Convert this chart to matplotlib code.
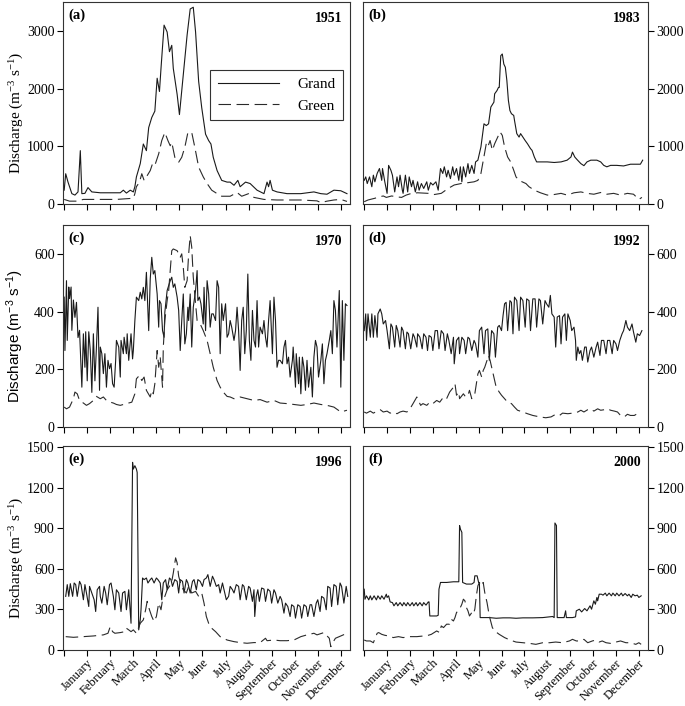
import numpy as np
import matplotlib
matplotlib.use("Agg")
import matplotlib.pyplot as plt

plt.rcParams['font.family'] = ['Liberation Serif', 'DejaVu Serif']
plt.rcParams['mathtext.default'] = 'regular'
plt.rcParams['lines.scale_dashes'] = False

months = ['January', 'February', 'March', 'April', 'May', 'June', 'July',
          'August', 'September', 'October', 'November', 'December']

# ---- 1951 (a)
grand_1951_day = [0, 2, 5, 10, 14, 18, 21, 23, 27, 31, 36, 47, 60, 73, 77, 81, 86, 90, 92, 94,
                  99, 103, 107, 110, 114, 118, 121, 124, 126, 130, 134, 137, 140, 142, 147, 150, 155, 160, 164, 168,
                  171, 175, 179, 184, 188, 191, 194, 199, 205, 212, 216, 221, 226, 229, 236, 242, 251, 260, 264, 266,
                  268, 271, 277, 290, 308, 325, 334, 342, 351, 360, 368]
grand_1951_q = [240, 525, 380, 180, 155, 210, 925, 180, 185, 285, 210, 195, 195, 195, 240, 190, 240, 210, 300, 470,
                700, 1040, 925, 1325, 1500, 1610, 2180, 1950, 2350, 3100, 2980, 2640, 2750, 2350, 1900, 1550, 2240, 2930, 3380, 3410,
                2980, 2125, 1670, 1210, 1100, 1040, 810, 580, 410, 380, 380, 325, 410, 300, 380, 355, 240, 180, 380, 300,
                410, 240, 210, 180, 180, 210, 180, 170, 240, 230, 180]
green_1951_day = [0, 7, 16, 25, 47, 68, 90, 92, 94, 98, 101, 104, 107, 112, 115, 118, 123, 127, 131, 135,
                  138, 140, 144, 149, 153, 157, 161, 166, 170, 175, 181, 186, 192, 199, 205, 216, 225, 231, 240, 247,
                  260, 277, 308, 329, 334, 342, 351, 360, 368]
green_1951_q = [80, 50, 50, 80, 80, 80, 100, 180, 300, 380, 525, 410, 470, 580, 700, 670, 870, 1100, 1240, 1100,
                1010, 1070, 810, 725, 810, 985, 1240, 1240, 985, 640, 470, 355, 240, 180, 135, 135, 200, 135, 180, 115,
                80, 70, 70, 55, 25, 50, 70, 80, 45]

# ---- 1983 (b)
grand_1983_day = [0, 2, 4, 7, 10, 12, 14, 17, 20, 23, 24, 27, 30, 32, 35, 37, 40, 43, 45, 47,
                  50, 51, 54, 57, 59, 62, 64, 67, 70, 72, 75, 78, 82, 84, 87, 90, 94, 97, 100, 103,
                  105, 108, 110, 113, 116, 118, 121, 124, 126, 128, 130, 133, 136, 138, 141, 144, 146, 149, 151, 153,
                  157, 160, 163, 166, 170, 171, 174, 176, 177, 179, 181, 183, 185, 187, 189, 191, 193, 196, 197, 200,
                  203, 205, 208, 211, 214, 218, 220, 223, 226, 231, 240, 249, 258, 266, 271, 273, 276, 279, 284, 288,
                  292, 297, 305, 310, 314, 318, 323, 331, 340, 349, 358, 362, 365]
grand_1983_q = [410, 470, 355, 470, 300, 500, 385, 530, 615, 410, 615, 385, 185, 670, 585, 500, 210, 470, 300, 500,
                240, 185, 500, 210, 470, 300, 410, 210, 385, 240, 355, 270, 385, 240, 370, 330, 385, 240, 615, 530,
                645, 470, 585, 440, 645, 500, 615, 410, 645, 385, 645, 470, 700, 530, 670, 530, 730, 760, 875, 990,
                1390, 1360, 1390, 1680, 1765, 1910, 1965, 2020, 2020, 2570, 2600, 2425, 2370, 2140, 1795, 1620, 1565, 1535, 1450, 1220,
                1160, 1220, 1160, 1100, 1045, 960, 930, 815, 730, 730, 730, 720, 730, 760, 815, 900, 815, 770, 700, 665,
                730, 760, 760, 730, 670, 645, 670, 670, 660, 690, 690, 690, 760]
green_1983_day = [0, 5, 14, 20, 25, 29, 36, 42, 49, 55, 62, 70, 84, 92, 101, 110, 118, 127, 136, 144,
                  149, 153, 160, 162, 165, 168, 171, 175, 178, 181, 184, 188, 192, 196, 199, 203, 207, 212, 216, 223,
                  231, 240, 249, 258, 266, 275, 284, 292, 301, 310, 318, 327, 336, 345, 353, 360, 364]
green_1983_q = [40, 70, 100, 125, 140, 115, 140, 125, 115, 155, 185, 195, 185, 165, 185, 270, 330, 355, 370, 385,
                410, 530, 1045, 990, 1100, 930, 1045, 1160, 1250, 1190, 990, 815, 730, 585, 470, 410, 385, 355, 300, 240,
                195, 155, 165, 185, 155, 195, 210, 185, 170, 200, 170, 185, 155, 185, 170, 80, 115]

# ---- 1970 (c)
grand_1970_day = [0, 1, 3, 4, 6, 7, 9, 10, 12, 14, 16, 18, 20, 23, 25, 27, 28, 30, 32, 34,
                  36, 38, 40, 42, 44, 46, 47, 49, 51, 53, 55, 57, 59, 61, 63, 65, 67, 68, 71, 73,
                  74, 77, 78, 81, 82, 84, 87, 89, 90, 92, 94, 97, 99, 101, 103, 105, 107, 110, 112, 114,
                  116, 118, 121, 123, 124, 126, 128, 130, 131, 134,
                  136, 138, 140, 142, 144, 147, 149, 151, 153, 155, 157, 159, 161, 162, 164, 166, 168, 171, 173, 174,
                  176, 178, 181, 182, 184, 186, 188, 190, 192, 194, 197, 199, 201, 203, 205, 207, 210, 212, 214, 216,
                  218, 221, 223, 225, 227, 229, 231, 233, 235, 237, 239, 241, 243, 245, 247, 249, 251, 253, 255, 258,
                  260, 262, 264, 266, 268, 271, 273, 275, 277, 279, 281, 284, 286, 288, 290, 292, 294, 297, 298, 301,
                  302, 305, 306, 308, 310, 312, 314, 316, 318, 321, 323, 325, 327, 329, 331, 334, 336, 338, 340, 342,
                  345, 347, 349, 351, 353, 355, 358, 360, 362, 364, 366, 368]
grand_1970_q = [450, 265, 507, 300, 485, 445, 485, 335, 440, 380, 432, 310, 335, 138, 323, 207, 330, 160, 330, 265,
                120, 323, 160, 277, 415, 127, 277, 254, 185, 254, 138, 231, 202, 220, 150, 138, 231, 300, 277, 173,
                300, 254, 311, 254, 323, 231, 323, 236, 265, 369, 450, 438, 467, 444, 484, 438, 536, 334, 513, 588,
                530, 542, 461, 346, 438, 427, 334, 311, 398, 473,
                490, 507, 519, 484, 496, 450, 404, 265, 369, 461, 288, 323, 415, 369, 461, 277, 415, 473, 542, 438,
                450, 427, 357, 484, 334, 507, 461, 346, 392, 392, 369, 507, 484, 254, 427, 369, 427, 311, 323, 369,
                346, 300, 334, 415, 334, 196, 369, 415, 254, 334, 530, 300, 231, 404, 300, 277, 438, 277, 346, 323,
                369, 311, 277, 369, 438, 254, 450, 369, 207, 231, 231, 219, 277, 300, 219, 242, 173, 231, 277, 138,
                254, 150, 242, 115, 242, 207, 127, 231, 138, 207, 104, 242, 300, 277, 173, 231, 288, 150, 231, 254,
                300, 334, 254, 438, 404, 277, 473, 138, 438, 231, 427, 421]
green_1970_day = [0, 3, 7, 12, 14, 17, 20, 25, 29, 33, 38, 42, 47, 51, 55, 60, 64, 68, 73, 81,
                  88, 92, 94, 98, 101, 104, 107, 112, 114, 116, 118, 121, 123, 125, 128, 129, 131, 134, 136, 138,
                  140, 142, 147, 151, 153, 155, 157, 160, 162, 164, 166, 168, 171, 173, 177, 181, 186, 190, 194, 199,
                  203, 207, 212, 216, 221, 229, 238, 247, 255, 264, 273, 281, 290, 299, 308, 316, 325, 334, 342, 351,
                  360, 368]
green_1970_q = [69, 63, 69, 98, 121, 115, 92, 83, 75, 81, 92, 106, 98, 104, 92, 86, 83, 78, 75, 81,
                86, 115, 167, 179, 161, 173, 127, 104, 127, 115, 150, 265, 207, 242, 138, 277, 369, 438, 473, 542,
                611, 617, 611, 588, 600, 553, 484, 507, 600, 663, 623, 519, 427, 369, 357, 334, 300, 254, 207, 161,
                138, 121, 106, 104, 98, 104, 98, 92, 95, 86, 92, 83, 81, 78, 75, 78, 83, 78, 75, 69,
                52, 58]

# ---- 1992 (d)
grand_1992_day = [0, 2, 3, 5, 8, 10, 12, 14, 17, 18, 21, 23, 25, 28, 30, 33, 35, 37, 40, 42,
                  44, 47, 49, 51, 54, 56, 58, 61, 64, 66, 69, 70, 73, 76, 78, 81, 83, 85, 88, 90,
                  93, 96, 98, 101, 104, 106, 109, 111, 114, 117, 118, 121, 124, 125, 128, 131, 133, 136, 138, 141,
                  144, 146, 149, 151, 154, 157, 159, 162, 164, 167, 170, 172, 175, 177, 180, 182, 184, 186, 188, 191,
                  193, 195, 197, 200, 203, 205, 208, 211, 213, 216, 218, 221, 224, 226, 229, 231, 234, 237, 239, 242,
                  244, 246, 249, 251, 253, 256, 258, 260, 263, 265, 267, 270, 272, 275, 277, 278, 280, 282, 284, 286,
                  289, 291, 293, 296, 298, 301, 304, 306, 309, 311, 314, 317, 319, 322, 325, 327, 330, 332, 335, 338,
                  340, 343, 345, 348, 351, 353, 356, 358, 361, 364]
grand_1992_q = [334, 392, 300, 392, 311, 392, 311, 386, 311, 392, 409, 392, 357, 369, 334, 271, 357, 346, 277, 352,
                334, 277, 346, 334, 271, 329, 323, 271, 323, 311, 277, 323, 311, 271, 323, 311, 265, 317, 311, 265,
                334, 334, 271, 334, 323, 265, 323, 300, 254, 311, 219, 300, 311, 254, 311, 300, 254, 311, 306, 265,
                300, 288, 242, 334, 346, 254, 334, 340, 231, 334, 323, 242, 346, 352, 334, 386, 427, 432, 334, 438,
                432, 323, 450, 438, 334, 450, 438, 346, 444, 438, 334, 444, 444, 346, 444, 438, 357, 438, 427, 415,
                456, 392, 381, 277, 381, 386, 288, 381, 392, 300, 392, 369, 334, 346, 300, 231, 277, 254, 265, 231,
                277, 277, 225, 265, 277, 242, 277, 294, 248, 300, 300, 254, 300, 300, 254, 300, 288, 265, 300, 323,
                334, 369, 346, 334, 357, 329, 294, 323, 317, 334]
green_1992_day = [0, 3, 8, 12, 17, 21, 25, 30, 34, 38, 43, 47, 51, 56, 60, 64, 69, 71, 74, 77,
                  82, 86, 90, 95, 99, 104, 108, 112, 117, 119, 121, 124, 125, 130, 133, 136, 138, 141, 145, 149,
                  151, 154, 156, 158, 161, 163, 165, 168, 171, 173, 177, 180, 184, 188, 193, 197, 201, 208, 214, 221,
                  230, 238, 245, 251, 256, 260, 267, 273, 280, 284, 288, 293, 297, 301, 306, 310, 315, 319, 323, 328,
                  332, 336, 341, 345, 349, 354, 358, 362]
green_1992_q = [52, 48, 55, 48, 55, 60, 52, 55, 48, 52, 46, 52, 55, 52, 63, 81, 104, 92, 75, 81,
                75, 86, 81, 92, 86, 104, 98, 121, 138, 150, 110, 121, 98, 115, 104, 110, 127, 98, 115, 184,
                196, 173, 196, 207, 231, 248, 231, 196, 161, 138, 121, 110, 98, 86, 81, 69, 58, 52, 46, 40,
                35, 32, 35, 44, 40, 48, 46, 48, 52, 58, 52, 60, 63, 55, 63, 58, 60, 63, 58, 55,
                52, 40, 35, 44, 40, 40, 46, 43]

# ---- 1996 (e)
grand_1996_day = [2, 4, 6, 8, 11, 13, 15, 17, 20, 22, 25, 27, 29, 32, 33, 36, 39, 41, 43, 46,
                  47, 49, 52, 54, 56, 59, 61, 64, 66, 68, 71, 74, 76, 79, 81, 84, 86, 87, 89, 90,
                  92, 94, 95, 97, 99, 100, 102, 104, 107, 109, 112, 114, 117, 120, 122, 125, 127, 129, 132, 134,
                  137, 139, 141, 144, 147, 149, 151, 154, 156, 159, 161, 164, 167, 169, 172, 174, 177, 180, 182, 185,
                  187, 190, 193, 195, 198, 201, 203, 206, 208, 211, 214, 216, 219, 221, 224, 227, 229, 232, 234, 237,
                  240, 242, 245, 247, 248, 250, 252, 254, 257, 260, 262, 265, 268, 270, 273, 275, 278, 281, 283, 286,
                  288, 291, 294, 296, 299, 301, 304, 307, 309, 312, 315, 317, 320, 322, 325, 328, 330, 333, 335, 338,
                  341, 343, 346, 348, 351, 354, 356, 359, 361, 364, 367, 369]
grand_1996_q = [397, 484, 397, 491, 397, 496, 484, 397, 508, 484, 372, 484, 422, 322, 471, 422, 372, 285, 446, 471,
                397, 347, 471, 422, 335, 484, 496, 397, 298, 446, 422, 285, 422, 434, 298, 446, 273, 198, 1389, 1339,
                1364, 1339, 1314, 149, 223, 298, 533, 521, 533, 496, 521, 533, 496, 533, 521, 496, 372, 496, 521, 446,
                533, 521, 471, 521, 508, 422, 521, 508, 422, 521, 496, 422, 508, 521, 446, 521, 508, 471, 521, 533,
                558, 471, 546, 521, 471, 484, 422, 496, 446, 372, 397, 471, 446, 422, 484, 471, 372, 484, 471, 372,
                471, 459, 360, 446, 248, 397, 446, 360, 459, 451, 360, 451, 434, 347, 446, 422, 347, 397, 372, 273,
                347, 322, 248, 335, 322, 236, 335, 322, 236, 335, 322, 248, 335, 335, 248, 347, 372, 285, 397, 384,
                298, 471, 459, 322, 484, 471, 335, 496, 471, 347, 471, 397]
green_1996_day = [2, 12, 25, 38, 51, 57, 60, 63, 66, 73, 79, 81, 84, 87, 90, 94, 99, 103, 106, 108,
                  111, 114, 117, 120, 123, 126, 128, 131, 134, 137, 140, 142, 145, 147, 149, 152, 155, 159, 162, 166,
                  171, 175, 179, 182, 185, 188, 192, 197, 203, 212, 221, 229, 238, 247, 255, 262, 264, 273, 281, 290,
                  299, 308, 316, 325, 329, 338, 345, 347, 349, 353, 360, 368]
green_1996_q = [99, 94, 99, 104, 112, 124, 174, 136, 124, 129, 136, 161, 149, 136, 149, 124, 198, 223, 298, 360,
                298, 248, 211, 248, 347, 298, 372, 397, 446, 471, 508, 570, 682, 645, 546, 484, 446, 422, 471, 422,
                434, 397, 422, 347, 248, 198, 161, 136, 99, 74, 62, 55, 50, 55, 55, 87, 69, 74, 69, 69,
                74, 99, 112, 124, 112, 129, 87, 25, 50, 87, 104, 124]

# ---- 2000 (f)
grand_2000_day = [0, 1, 3, 6, 8, 10, 13, 16, 18, 21, 23, 26, 29, 30, 32, 34, 37, 39, 42, 44,
                  47, 50, 52, 55, 57, 60, 63, 65, 68, 70, 73, 76, 78, 81, 84, 85, 86, 90, 95, 97,
                  98, 100, 108, 117, 124, 125, 126, 128, 129, 134, 141, 144, 145, 148, 150, 151, 152, 158, 164, 173,
                  182, 191, 199, 208, 221, 234, 247, 249, 250, 252, 253, 258, 262, 264, 265, 273, 277, 278, 282, 285,
                  289, 292, 296, 298, 301, 303, 305, 306, 308, 311, 313, 316, 318, 321, 324, 326, 329, 331, 334, 337,
                  339, 342, 345, 347, 350, 352, 355, 358, 360, 363]
grand_2000_q = [450, 376, 401, 371, 401, 371, 401, 371, 401, 376, 401, 376, 413, 389, 401, 356, 351, 327, 351, 327,
                351, 327, 351, 327, 351, 327, 351, 327, 351, 327, 351, 327, 351, 332, 356, 356, 252, 252, 252, 257,
                450, 500, 500, 505, 505, 921, 896, 871, 500, 488, 488, 500, 549, 549, 500, 500, 240, 240, 240, 235,
                238, 238, 235, 238, 238, 240, 248, 240, 940, 921, 240, 240, 240, 290, 240, 240, 245, 290, 302, 282,
                307, 290, 327, 302, 364, 339, 389, 364, 413, 413, 406, 421, 401, 421, 401, 421, 401, 421, 401, 421,
                401, 418, 401, 413, 389, 413, 401, 406, 389, 401]
green_2000_day = [0, 3, 8, 12, 17, 19, 23, 27, 32, 38, 45, 51, 60, 69, 78, 84, 88, 95, 99, 101,
                  104, 108, 112, 114, 117, 119, 121, 123, 125, 128, 130, 132, 134, 136, 138, 141, 143, 145, 147, 149,
                  151, 153, 156, 158, 161, 164, 168, 171, 177, 184, 191, 199, 208, 217, 225, 234, 243, 251, 260, 269,
                  273, 278, 284, 288, 293, 299, 304, 308, 312, 317, 323, 330, 336, 343, 349, 356, 360, 363]
green_2000_q = [74, 67, 67, 54, 124, 129, 116, 109, 104, 92, 99, 92, 99, 99, 104, 109, 116, 141, 129, 178,
                166, 191, 191, 228, 215, 240, 277, 290, 302, 339, 376, 364, 314, 290, 252, 277, 265, 302, 401, 475,
                500, 475, 500, 426, 351, 252, 166, 141, 116, 92, 74, 59, 54, 49, 42, 54, 54, 59, 54, 67,
                79, 67, 67, 79, 54, 67, 74, 59, 67, 54, 49, 59, 67, 54, 54, 42, 54, 42]


def draw_panel(ax, grand, green, tag, year, ymax, yticks, right=False, bottom=False):
    ax.plot(grand[0], grand[1], color='#1a1a1a', lw=0.8, label='Grand')
    ax.plot(green[0], green[1], color='#2a2a2a', lw=0.8, dashes=(9, 4), label='Green')
    ax.set_xlim(-1.5, 372)
    ax.set_ylim(0, ymax)
    ax.set_yticks(yticks)
    ax.set_xticks(np.arange(0, 361, 30))
    if bottom:
        ax.set_xticklabels([''] + months, rotation=45, ha='right', va='top',
                           rotation_mode='anchor', fontsize=9)
    else:
        ax.set_xticklabels([])
    if right:
        ax.yaxis.tick_right()
    ax.tick_params(direction='out', length=4, width=0.8, labelsize=10, pad=2)
    ax.tick_params(axis='x', labelsize=9, pad=1)
    for s in ax.spines.values():
        s.set_linewidth(0.8)
        s.set_color('#333333')
    ax.text(0.02, 0.97, tag, transform=ax.transAxes, ha='left', va='top',
            fontsize=10.5, fontweight='bold')
    ax.text(0.975, 0.95, year, transform=ax.transAxes, ha='right', va='top',
            fontsize=10, fontweight='bold')


fig = plt.figure(figsize=(6.85, 7.06), dpi=100)
lefts = [0.092, 0.530]
widths = [0.419, 0.416]
rows = [(0.711, 0.2861), (0.3952, 0.2861), (0.0793, 0.289)]

panels = [
    ((grand_1951_day, grand_1951_q), (green_1951_day, green_1951_q), '(a)', '1951', 3500, [0, 1000, 2000, 3000]),
    ((grand_1983_day, grand_1983_q), (green_1983_day, green_1983_q), '(b)', '1983', 3500, [0, 1000, 2000, 3000]),
    ((grand_1970_day, grand_1970_q), (green_1970_day, green_1970_q), '(c)', '1970', 700, [0, 200, 400, 600]),
    ((grand_1992_day, grand_1992_q), (green_1992_day, green_1992_q), '(d)', '1992', 700, [0, 200, 400, 600]),
    ((grand_1996_day, grand_1996_q), (green_1996_day, green_1996_q), '(e)', '1996', 1510, [0, 300, 600, 900, 1200, 1500]),
    ((grand_2000_day, grand_2000_q), (green_2000_day, green_2000_q), '(f)', '2000', 1510, [0, 300, 600, 900, 1200, 1500]),
]

ylabel = 'Discharge (m$^{-3}$ s$^{-1}$)'
axes = []
for i, (grand, green, tag, year, ymax, yticks) in enumerate(panels):
    r, c = divmod(i, 2)
    ax = fig.add_axes([lefts[c], rows[r][0], widths[c], rows[r][1]])
    draw_panel(ax, grand, green, tag, year, ymax, yticks, right=(c == 1), bottom=(r == 2))
    if c == 0:
        fam = ['Liberation Sans', 'DejaVu Sans'] if r == 1 else ['Liberation Serif', 'DejaVu Serif']
        ax.set_ylabel(ylabel, fontsize=11, family=fam)
        ax.yaxis.set_label_coords(-0.13, 0.45)
    axes.append(ax)

leg = axes[0].legend(loc='upper right', bbox_to_anchor=(0.976, 0.663), fontsize=11,
                     handlelength=4.0, handletextpad=1.2, borderpad=0.5, borderaxespad=0,
                     fancybox=False, framealpha=1, edgecolor='#333333')
leg.get_frame().set_linewidth(0.8)

fig.savefig('out.png', dpi=100)
